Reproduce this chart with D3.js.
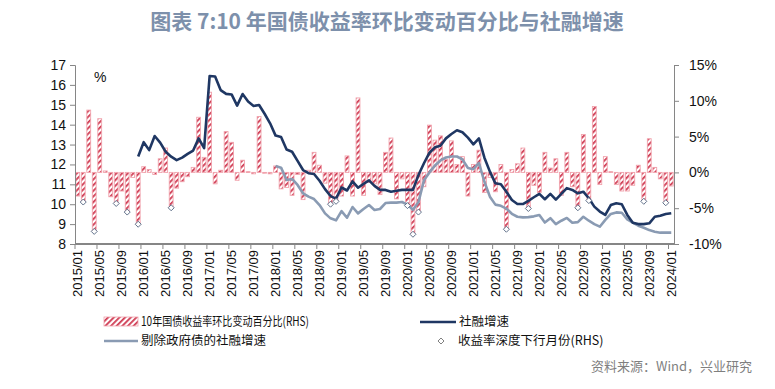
<!DOCTYPE html>
<html><head><meta charset="utf-8">
<script src="https://cdn.jsdelivr.net/npm/d3@7"></script>
<style>body{margin:0;background:#fff}svg{display:block}</style>
</head><body>
<svg id="c" width="775" height="389"></svg>
<script>
// ---------- DATA ----------
const startYear = 2015, endYear = 2024, endMonth = 1;
const categories = [];
for (let y = startYear; y <= endYear; y++) {
  for (let m = 1; m <= 12; m++) {
    if (y === endYear && m > endMonth) break;
    categories.push(y + "/" + String(m).padStart(2, "0"));
  }
}
const tickLabels = ["2015/01","2015/05","2015/09","2016/01","2016/05","2016/09","2017/01","2017/05","2017/09",
  "2018/01","2018/05","2018/09","2019/01","2019/05","2019/09","2020/01","2020/05","2020/09",
  "2021/01","2021/05","2021/09","2022/01","2022/05","2022/09","2023/01","2023/05","2023/09","2024/01"];

// 10年国债收益率环比变动百分比 (%), 2015/01 - 2024/01
const yieldChange = [
  -3.3,-4.0,8.7,-8.1,7.5,0.2,-3.4,-4.2,-2.6,-5.4,-0.7,-7.1,
  0.8,0.4,-0.3,1.9,3.4,-4.8,-2.2,-1.3,-0.6,0.7,7.7,2.1,
  11.2,-1.6,0.3,5.7,4.2,-1.1,1.7,0.1,-0.2,7.8,-0.1,-0.2,
  0.9,-2.3,-2.1,-3.2,-0.3,-3.8,0.3,2.8,1.0,-1.5,-4.3,-3.9,
  -3.3,2.3,-3.3,10.4,-3.2,-1.4,-1.6,-3.1,2.8,4.8,-3.7,-0.9,
  -4.5,-8.5,-5.4,-2.0,6.6,4.5,5.1,1.8,4.4,1.1,2.2,-3.3,
  1.1,3.1,-2.8,-0.7,-2.7,1.1,-7.8,0.4,1.2,3.4,-4.9,-1.8,
  -2.8,2.8,0.6,1.9,-3.2,2.8,-2.0,-4.8,5.3,-3.8,9.2,-1.7,
  2.2,0.1,-1.7,-2.6,-2.6,-1.8,1.0,-3.9,4.7,0.7,-0.9,-4.1,
  -1.9
];

// 社融增速 (%), from 2015/12
const tsfStart = "2015/12";
const tsfGrowth = [
  12.4,
  13.12,12.72,13.43,13.1,12.64,12.39,12.22,12.34,12.53,12.7,13.31,12.82,
  16.45,16.42,15.74,15.55,15.52,14.96,15.54,15.16,14.94,14.99,14.55,14.07,
  13.45,13.38,12.75,12.64,12.18,11.72,11.56,11.52,11.18,10.76,10.41,10.28,
  10.84,10.69,11.15,10.83,11.02,11.2,10.92,10.72,10.72,10.63,10.68,10.72,
  10.72,10.72,11.47,12.06,12.59,12.86,12.94,13.31,13.53,13.72,13.62,13.35,
  13.01,13.31,12.34,11.64,11.05,11.0,10.63,10.21,10.01,10.01,10.17,10.35,
  10.52,10.25,10.52,10.23,10.52,10.81,10.72,10.55,10.63,10.30,9.88,9.63,
  9.46,9.96,10.05,10.0,9.46,9.07,9.0,9.0,9.04,9.37,9.42,9.51,
  9.55
];

// 剔除政府债的社融增速 (%), from 2018/01
const exGovStart = "2018/01";
const tsfExGov = [
  11.92,11.84,11.22,11.27,10.97,10.55,10.38,10.26,9.96,9.54,9.29,9.19,
  9.65,9.32,9.86,9.54,9.76,9.96,9.71,9.76,10.06,10.08,10.08,10.11,
  9.98,9.72,10.1,11.2,11.6,11.95,12.2,12.35,12.4,12.4,12.25,11.82,
  11.76,12.08,11.13,10.38,9.98,9.92,9.78,9.52,9.37,9.34,9.35,9.39,
  9.46,9.08,9.3,9.0,9.17,9.31,9.07,9.1,9.37,9.17,9.0,8.87,
  9.21,9.51,9.59,9.57,9.24,9.07,8.92,8.82,8.70,8.62,8.57,8.57,
  8.57
];

// 收益率深度下行月份
const deepDeclineMonths = ["2015/02","2015/04","2015/08","2015/10","2015/12","2016/06",
  "2018/11","2018/12","2020/01","2020/02","2020/03","2021/07","2021/11",
  "2022/08","2022/10","2023/08","2023/12"];

const leftTicks = [8,9,10,11,12,13,14,15,16,17];
const rightTicks = [-10,-5,0,5,10,15];

// ---------- CHART ----------
const svg = d3.select("#c");
const L = 75, R = 674, T = 65, B = 244;
const numFont = "'Liberation Sans', Arial, sans-serif";
const cjkFont = "'Noto Sans CJK SC', sans-serif";

const x = d3.scaleBand().domain(categories).range([L, R]).paddingInner(0.3).paddingOuter(0.15);
const cx = c => x(c) + x.bandwidth() / 2;
const yL = d3.scaleLinear().domain([8, 17]).range([B, T]);
const yR = d3.scaleLinear().domain([-10, 15]).range([B, T]);

const defs = svg.append("defs");
const pat = defs.append("pattern").attr("id", "hatch").attr("patternUnits", "userSpaceOnUse")
  .attr("width", 4).attr("height", 4).attr("patternTransform", "rotate(45)");
pat.append("rect").attr("width", 4).attr("height", 4).attr("fill", "#fff");
pat.append("rect").attr("width", 1.8).attr("height", 4).attr("fill", "#cf3a52");

// title
svg.append("text").attr("x", 387).attr("y", 29).attr("text-anchor", "middle")
  .attr("font-family", cjkFont).attr("font-weight", "bold").attr("font-size", 21)
  .attr("fill", "#7d90ab").text("图表 7:10 年国债收益率环比变动百分比与社融增速");

// bars
const barData = categories.map((c, i) => ({ c, v: yieldChange[i] }));
svg.append("g").selectAll("rect").data(barData).join("rect")
  .attr("x", d => x(d.c)).attr("width", x.bandwidth())
  .attr("y", d => yR(Math.max(0, d.v))).attr("height", d => Math.max(0.8, Math.abs(yR(d.v) - yR(0))))
  .attr("fill", "url(#hatch)").attr("stroke", "#f1a3ad").attr("stroke-width", 0.9);

// lines
const tsfData = tsfGrowth.map((v, i) => ({ c: categories[categories.indexOf(tsfStart) + i], v }));
const exData = tsfExGov.map((v, i) => ({ c: categories[categories.indexOf(exGovStart) + i], v }));
const line = d3.line().x(d => cx(d.c)).y(d => yL(d.v));
svg.append("path").datum(exData).attr("d", line).attr("fill", "none")
  .attr("stroke", "#8a9bb3").attr("stroke-width", 2.6).attr("stroke-linejoin", "round");
svg.append("path").datum(tsfData).attr("d", line).attr("fill", "none")
  .attr("stroke", "#1f3763").attr("stroke-width", 2.6).attr("stroke-linejoin", "round");

// diamonds
const diaData = deepDeclineMonths.map(c => ({ c, v: yieldChange[categories.indexOf(c)] }));
const diamond = d3.symbol().type(d3.symbolSquare).size(18);
svg.append("g").selectAll("path").data(diaData).join("path")
  .attr("d", diamond)
  .attr("transform", d => `translate(${cx(d.c)},${yR(d.v) + 1}) rotate(45)`)
  .attr("fill", "#fff").attr("stroke", "#5a6b85").attr("stroke-width", 0.9);

// axes
const axisColor = "#868686";
const gl = svg.append("g").attr("transform", `translate(${L},0)`)
  .call(d3.axisLeft(yL).tickValues(leftTicks).tickSize(5).tickPadding(4));
gl.selectAll("text").attr("font-family", numFont).attr("font-size", 14).attr("fill", "#111");
gl.selectAll("line,path").attr("stroke", axisColor);

const gr = svg.append("g").attr("transform", `translate(${R},0)`)
  .call(d3.axisRight(yR).tickValues(rightTicks).tickFormat(d => d + "%").tickSize(5).tickPadding(10));
gr.selectAll("text").attr("font-family", numFont).attr("font-size", 14).attr("fill", "#111");
gr.selectAll("line,path").attr("stroke", axisColor);

// bottom axis
const gb = svg.append("g");
gb.append("line").attr("x1", L).attr("x2", R).attr("y1", B).attr("y2", B)
  .attr("stroke", axisColor).attr("stroke-width", 2);
gb.selectAll("line.t").data(tickLabels).join("line").attr("class", "t")
  .attr("x1", d => cx(d) - x.step() / 2).attr("x2", d => cx(d) - x.step() / 2)
  .attr("y1", B).attr("y2", B + 5).attr("stroke", axisColor).attr("stroke-width", 1);
gb.selectAll("text").data(tickLabels).join("text")
  .attr("transform", d => `translate(${cx(d)},${B + 6}) rotate(-90)`)
  .attr("text-anchor", "end").attr("dy", "0.35em")
  .attr("font-family", numFont).attr("font-size", 13).attr("fill", "#111").text(d => d);

// % label
svg.append("text").attr("x", 94).attr("y", 82).attr("font-family", numFont)
  .attr("font-size", 14).attr("fill", "#111").text("%");

// legend
const lg = svg.append("g").attr("font-family", cjkFont).attr("font-size", 12.5).attr("fill", "#111");
lg.append("rect").attr("x", 104).attr("y", 317).attr("width", 34).attr("height", 9)
  .attr("fill", "url(#hatch)").attr("stroke", "#f1a3ad").attr("stroke-width", 0.8);
lg.append("text").attr("x", 141).attr("y", 326).attr("textLength", 168)
  .attr("lengthAdjust", "spacingAndGlyphs").text("10年国债收益率环比变动百分比(RHS)");
lg.append("line").attr("x1", 420).attr("x2", 456).attr("y1", 322).attr("y2", 322)
  .attr("stroke", "#1f3763").attr("stroke-width", 2.6);
lg.append("text").attr("x", 459).attr("y", 326).text("社融增速");
lg.append("line").attr("x1", 104).attr("x2", 138).attr("y1", 341).attr("y2", 341)
  .attr("stroke", "#8a9bb3").attr("stroke-width", 2.6);
lg.append("text").attr("x", 141).attr("y", 345).text("剔除政府债的社融增速");
lg.append("path").attr("d", diamond).attr("transform", "translate(441,341) rotate(45)")
  .attr("fill", "#fff").attr("stroke", "#7a7a7a").attr("stroke-width", 0.9);
lg.append("text").attr("x", 458).attr("y", 345).text("收益率深度下行月份(RHS)");

// source
svg.append("text").attr("x", 752).attr("y", 371).attr("text-anchor", "end")
  .attr("font-family", cjkFont).attr("font-size", 13).attr("fill", "#7f7f7f")
  .text("资料来源：Wind，兴业研究");
</script>
</body></html>
